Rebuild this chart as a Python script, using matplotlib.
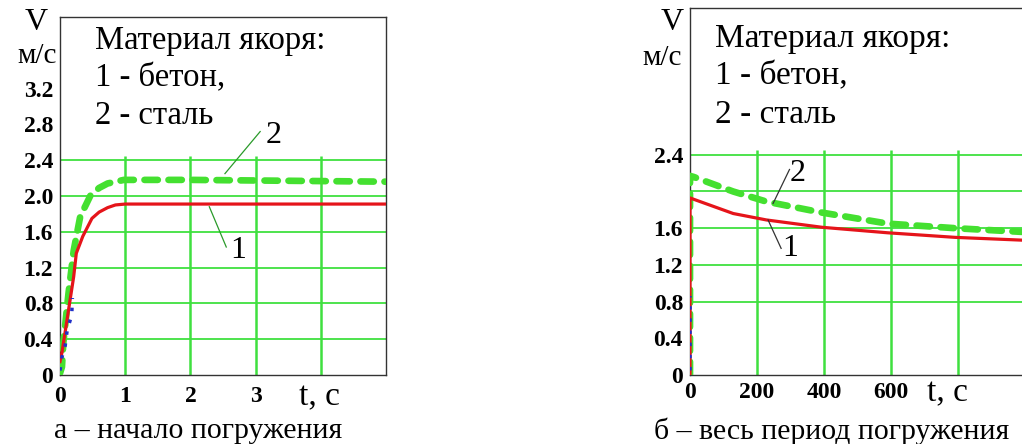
import matplotlib.pyplot as plt

plt.rcParams["font.family"] = ["Liberation Serif", "DejaVu Serif"]

# --- panel a: start of immersion (t up to 5 s) ---
t_a_concrete = [0, 0.03, 0.1, 0.21, 0.25, 0.35, 0.49, 0.6, 0.73, 0.85, 1.0, 5.0]
v_a_concrete = [0.15, 0.25, 0.58, 1.10, 1.36, 1.55, 1.75, 1.82, 1.87, 1.90, 1.91, 1.91]
t_a_steel = [0, 0.03, 0.05, 0.13, 0.21, 0.31, 0.47, 0.6, 0.73, 0.98, 2.0, 5.0]
v_a_steel = [0.02, 0.09, 0.35, 0.91, 1.39, 1.77, 2.01, 2.09, 2.14, 2.18, 2.18, 2.16]
t_blue = [0.0, 0.03, 0.08, 0.11, 0.18, 0.19]
v_blue = [0.05, 0.2, 0.33, 0.5, 0.67, 0.86]

# --- panel b: whole immersion period ---
t_b_concrete = [0, 0, 15, 129, 228, 394, 590, 792, 990]
v_b_concrete = [0, 1.93, 1.91, 1.76, 1.69, 1.61, 1.55, 1.50, 1.47]
t_b_steel = [0, 0, 10, 129, 228, 394, 590, 792, 990]
v_b_steel = [0, 2.17, 2.16, 2.0, 1.89, 1.77, 1.65, 1.60, 1.56]

yticks_a = [0, 0.4, 0.8, 1.2, 1.6, 2.0, 2.4, 2.8, 3.2]
ytick_labels_a = ["0", "0.4", "0.8", "1.2", "1.6", "2.0", "2.4", "2.8", "3.2"]
xticks_a = [0, 1, 2, 3]
yticks_b = [0, 0.4, 0.8, 1.2, 1.6, 2.4]
ytick_labels_b = ["0", "0.4", "0.8", "1.2", "1.6", "2.4"]
xticks_b = [0, 200, 400, 600]

hgrid_a = [0.4, 0.8, 1.2, 1.6, 2.0, 2.4]
vgrid_a = [1, 2, 3, 4]
hgrid_b = [0.8, 1.2, 1.6, 2.0, 2.4]
vgrid_b = [200, 400, 600, 800]

legend_lines = ["Материал якоря:", "1 - бетон,", "2 - сталь"]

GRID = "#3fe03f"
RED = "#e5141a"
LIME = "#44e030"
BLUE = "#2030c8"
W, H = 1022, 444


def fx(px):
    return px / W


def fy(py):
    return 1 - py / H


fig = plt.figure(figsize=(W / 100, H / 100), dpi=100)
ax1 = fig.add_axes([fx(60), fy(375), fx(386 - 60), (375 - 17) / H])
ax2 = fig.add_axes([fx(690), fy(375), fx(335), (375 - 8) / H])


def style(ax, xlim, xticks, yticks, ylabels, hgrid, vgrid, xpad, ypad):
    ax.set_xlim(*xlim)
    ax.set_ylim(0, 4.0)
    ax.hlines(hgrid, xlim[0], xlim[1], color=GRID, lw=1.3, zorder=1)
    ax.vlines(vgrid, 0, 2.45, color=GRID, lw=1.8, zorder=1)
    ax.set_xticks(xticks)
    ax.set_xticklabels([str(v) for v in xticks], fontweight="bold", fontsize=17)
    ax.set_yticks(yticks)
    ax.set_yticklabels(ylabels, fontweight="bold", fontsize=17)
    ax.tick_params(axis="x", length=0, pad=xpad)
    ax.tick_params(axis="y", length=0, pad=ypad)
    for s in ax.spines.values():
        s.set_color("#333333")
        s.set_linewidth(1.0)


style(ax1, (0, 5.0), xticks_a, yticks_a, ytick_labels_a, hgrid_a, vgrid_a, 8, 5)
style(ax2, (0, 1000), xticks_b, yticks_b, ytick_labels_b, hgrid_b, vgrid_b, 5, 5)
ax2.spines["right"].set_visible(False)

dash_kw = dict(color=LIME, lw=4.8, dashes=(2.0, 1.6), dash_capstyle="round", zorder=3)

ax1.plot(t_a_concrete, v_a_concrete, color=RED, lw=2.3, zorder=4)
ax1.plot(t_a_steel, v_a_steel, **dash_kw)
ax1.plot(t_blue, v_blue, color=BLUE, lw=2.5, ls=(0, (1, 2.5)), zorder=5)

ax2.plot(t_b_concrete, v_b_concrete, color=RED, lw=2.3, zorder=4)
ax2.plot(t_b_steel, v_b_steel, **dash_kw)
ax2.plot(t_blue, v_blue, color=BLUE, lw=2.5, ls=(0, (1, 2.5)), zorder=5)

# curve number labels with leader lines
ax1.plot([3.07, 2.53], [2.72, 2.25], color="#2a9a2a", lw=0.9, zorder=6)
ax1.text(3.28, 2.68, "2", fontsize=23, ha="center", va="center")
ax1.plot([2.29, 2.55], [1.88, 1.43], color="#2a9a2a", lw=0.9, zorder=6)
ax1.text(2.73, 1.39, "1", fontsize=23, ha="center", va="center")

ax2.plot([297, 248], [2.24, 1.87], color="#333333", lw=0.9, zorder=6)
ax2.text(321, 2.2, "2", fontsize=23, ha="center", va="center")
ax2.plot([272, 233], [1.38, 1.69], color="#333333", lw=0.9, zorder=6)
ax2.text(300, 1.38, "1", fontsize=23, ha="center", va="center")

# legend text blocks
for i, line in enumerate(legend_lines):
    fig.text(fx(95), fy(25 + i * 38), line, fontsize=23.5, ha="left", va="top")
    fig.text(fx(715), fy(23 + i * 38), line, fontsize=24, ha="left", va="top")

# axis labels
fig.text(fx(36), fy(23), "V", fontsize=23, ha="center", va="center")
fig.text(fx(37), fy(56), "м/с", fontsize=21, ha="center", va="center")
fig.text(fx(672), fy(23), "V", fontsize=23, ha="center", va="center")
fig.text(fx(662), fy(58), "м/с", fontsize=21, ha="center", va="center")
fig.text(fx(319), fy(397), "t, c", fontsize=24, ha="center", va="center")
fig.text(fx(947), fy(393), "t, c", fontsize=24, ha="center", va="center")

# captions
fig.text(fx(198), fy(431), "а – начало погружения", fontsize=21.5, ha="center", va="center")
fig.text(fx(832), fy(431), "б – весь период погружения", fontsize=21.5, ha="center", va="center")

fig.savefig("out.png", dpi=100)
